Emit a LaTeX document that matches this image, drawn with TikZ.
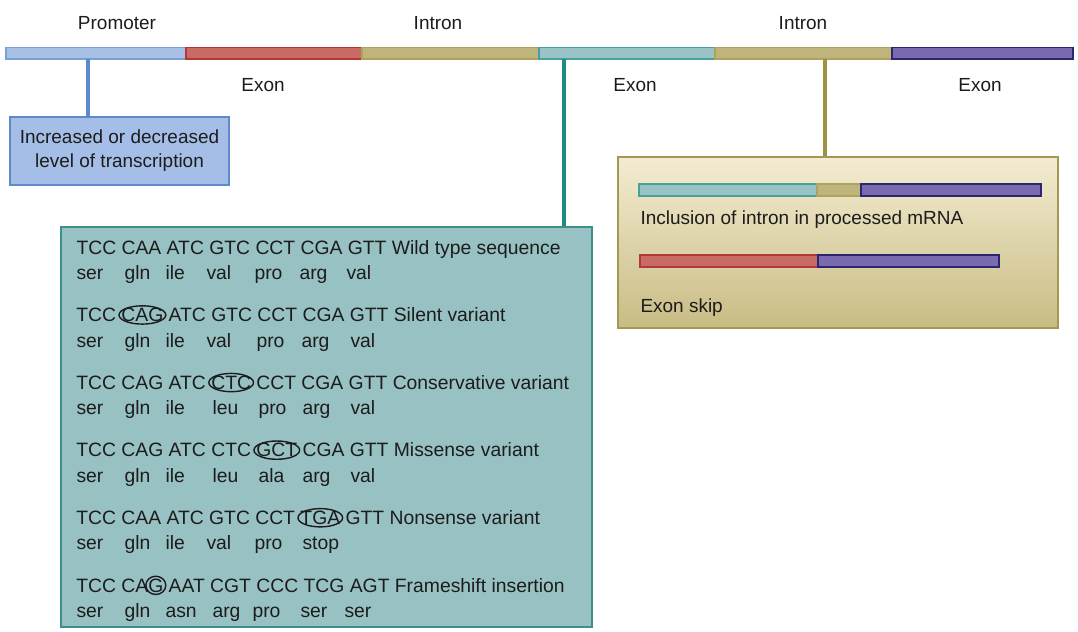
\documentclass[tikz,border=0pt]{standalone}
\usepackage{fontspec}
\setmainfont{Liberation Sans}
\usetikzlibrary{positioning}
\definecolor{cProm}{HTML}{A7C0E6}
\definecolor{cPromD}{HTML}{7AA0D6}
\definecolor{cExA}{HTML}{C96B62}
\definecolor{cExAD}{HTML}{B3363A}
\definecolor{cInt}{HTML}{BFB57C}
\definecolor{cIntD}{HTML}{AFA25E}
\definecolor{cExB}{HTML}{99C3C5}
\definecolor{cExBD}{HTML}{46A09C}
\definecolor{cExC}{HTML}{7A6BB1}
\definecolor{cExCD}{HTML}{2C2672}
\definecolor{cBlue}{HTML}{A5BEE7}
\definecolor{cBlueD}{HTML}{5C8ACC}
\definecolor{cTeal}{HTML}{98C1C3}
\definecolor{cTealD}{HTML}{3E8F8C}
\definecolor{cCreamT}{HTML}{F4ECD2}
\definecolor{cCreamB}{HTML}{C8BC84}
\definecolor{cOlvD}{HTML}{A59851}
\definecolor{cPinA}{HTML}{5A8BCB}
\definecolor{cPinB}{HTML}{1F8A86}
\definecolor{cPinC}{HTML}{9F9343}
\definecolor{cInk}{HTML}{1C1C1C}
\tikzset{
  every picture/.style={line width=0.6pt},
  seg/.style={line width=0.6pt},
  lbl/.style={font=\fontsize{10.8}{13.7}\selectfont, text=cInk, inner sep=0pt},
  seq/.style={lbl, anchor=base west},
  dna/.style={seq, font=\fontsize{11}{13.7}\selectfont},
  card/.style={lbl, line width=0.9pt, inner sep=0pt},
  pin/.style={line width=1.8pt},
}
\newlength{\ringw}
\newcommand{\ring}[1]{\settowidth{\ringw}{#1}%
  \tikz[baseline=(rg.base)]{\node[inner sep=0pt, outer sep=0pt] (rg) {#1};
    \draw[overlay, line width=0.8pt, cInk] (rg.center) ellipse [x radius=0.5\ringw+1.4pt, y radius=5.2pt];}}

\begin{document}
\begin{tikzpicture}[x=0.2mm,y=-0.2mm]
\useasboundingbox (0,0) rectangle (1078,631);

% ---------------------------------------------------------------- the gene
\foreach \xa/\xb/\f/\d in {6/186/cProm/cPromD, 186/362/cExA/cExAD, 362/539/cInt/cIntD,
                          539/715/cExB/cExBD, 715/892/cInt/cIntD, 892/1073/cExC/cExCD}
  \draw[seg, fill=\f, draw=\d] (\xa,47.5) rectangle (\xb,59);

\node[lbl] (tProm) at (117,23) {Promoter};
\node[lbl] (tIntA) at (438,23) {Intron};
\node[lbl] (tIntB) at (803,23) {Intron};
\node[lbl] (tExA) at (263,85) {Exon};
\node[lbl] (tExB) at (635,85) {Exon};
\node[lbl] (tExC) at (980,85) {Exon};

% ---------------------------------------------------------------- the three effects
\node[card, fill=cBlue, draw=cBlueD, minimum width=43.8mm, minimum height=13.6mm, align=center]
      (trans) at (119.5,151) {Increased or decreased\\level of transcription};
\node[card, fill=cTeal, draw=cTealD, minimum width=106.2mm, minimum height=80mm]
      (seqbox) at (326.5,427) {};
\node[card, top color=cCreamT, bottom color=cCreamB, draw=cOlvD, minimum width=88mm, minimum height=34.2mm]
      (splice) at (838,242.5) {};

\coordinate (pinA) at (88,59);
\coordinate (pinB) at (564,59);
\coordinate (pinC) at (825,59);
\draw[pin, draw=cPinA] (pinA) -- (pinA |- trans.north);
\draw[pin, draw=cPinB] (pinB) -- (pinB |- seqbox.north);
\draw[pin, draw=cPinC] (pinC) -- (pinC |- splice.north);

% ---------------------------------------------------------------- coding variants
\foreach \txt [count=\k] in {
    {TCC CAA ATC GTC CCT CGA GTT Wild type sequence},
    {TCC \ring{CAG} ATC GTC CCT CGA GTT Silent variant},
    {TCC CAG ATC \ring{CTC} CCT CGA GTT Conservative variant},
    {TCC CAG ATC CTC \ring{GCT} CGA GTT Missense variant},
    {TCC CAA ATC GTC CCT \ring{TGA} GTT Nonsense variant},
    {TCC CA\ring{G} AAT CGT CCC TCG AGT Frameshift insertion}}
  \node[dna] (cod\k) at ({76},{254+67.6*(\k-1)}) {\txt};

\foreach \row [count=\k] in {
    {ser/76,gln/124,ile/165,val/206,pro/254,arg/299,val/346},
    {ser/76,gln/124,ile/165,val/206,pro/256,arg/301,val/350},
    {ser/76,gln/124,ile/165,leu/212,pro/258,arg/302,val/350},
    {ser/76,gln/124,ile/165,leu/212,ala/258,arg/302,val/350},
    {ser/76,gln/124,ile/165,val/206,pro/254,stop/302},
    {ser/76,gln/124,asn/165,arg/212,pro/252,ser/300,ser/344}}
  \foreach \w/\x [count=\i] in \row
    \node[dna] (aa\k-\i) at ({\x},{279.5+67.6*(\k-1)}) {\w};

% ---------------------------------------------------------------- splicing variants
\foreach \xa/\xb/\f/\d in {639/817/cExB/cExBD, 817/861/cInt/cIntD, 861/1041/cExC/cExCD}
  \draw[seg, fill=\f, draw=\d] (\xa,184) rectangle (\xb,196);
\node[seq] (incl) at (640,224) {Inclusion of intron in processed mRNA};

\foreach \xa/\xb/\f/\d in {640/818/cExA/cExAD, 818/999/cExC/cExCD}
  \draw[seg, fill=\f, draw=\d] (\xa,255) rectangle (\xb,267);
\node[seq] (skip) at (640,312) {Exon skip};

\end{tikzpicture}
\end{document}
